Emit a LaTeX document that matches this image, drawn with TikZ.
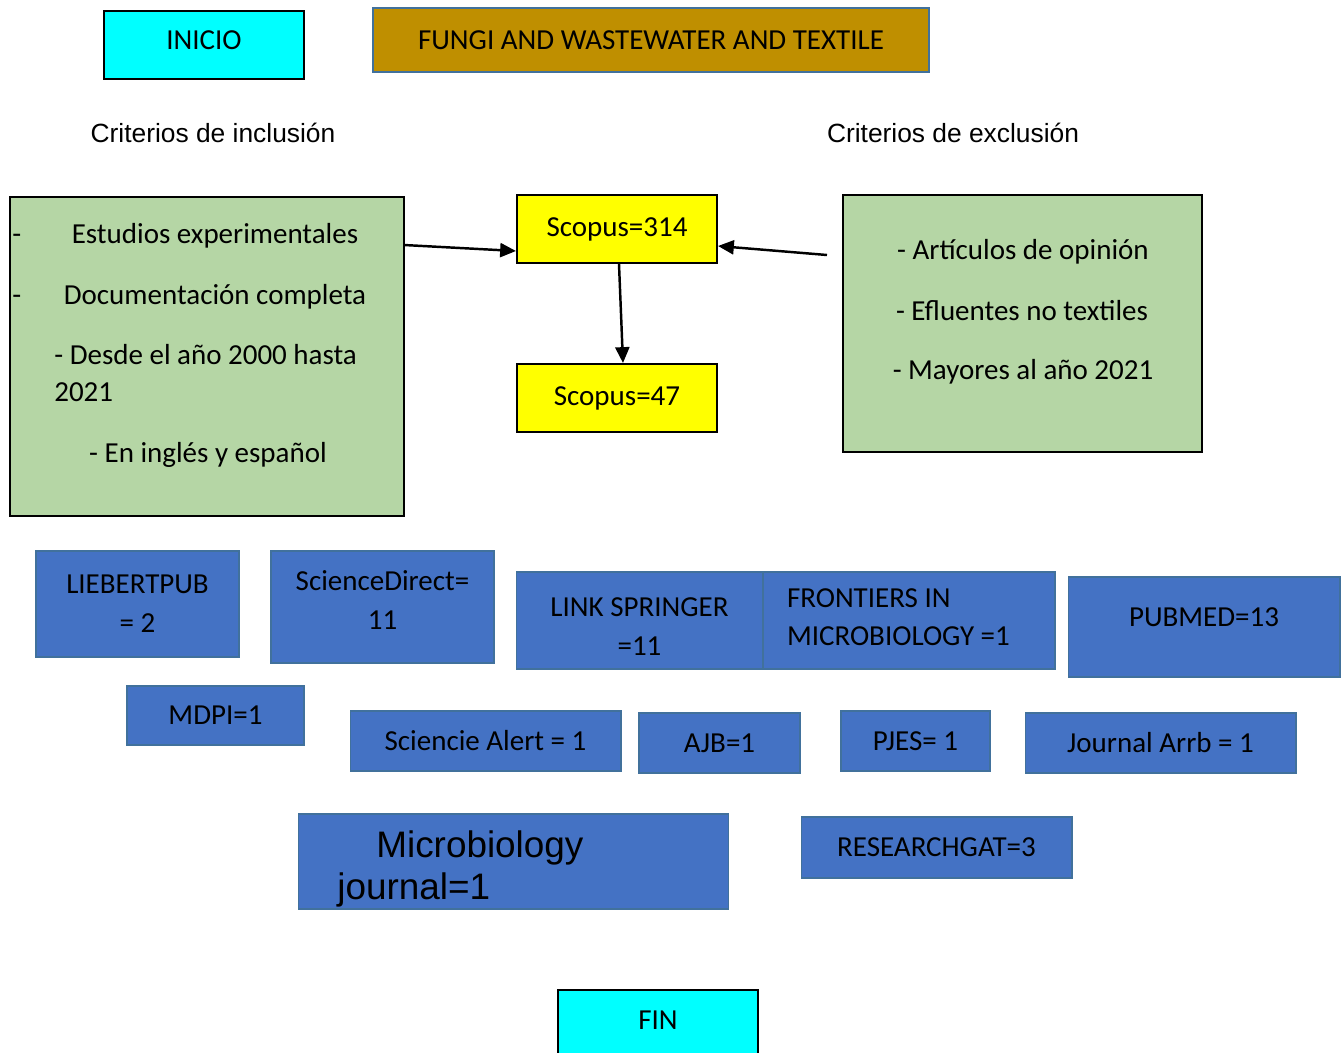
\documentclass[tikz,border=0pt]{standalone}
\usepackage{fontspec}
\setmainfont{Carlito}
\newfontfamily\arialfont{Liberation Sans}
\usetikzlibrary{arrows.meta,positioning}
\definecolor{Cyan}{HTML}{00FFFF}
\definecolor{Gold}{HTML}{BF8F00}
\definecolor{Sage}{HTML}{B5D6A5}
\definecolor{Lemon}{HTML}{FFFF00}
\definecolor{Royal}{HTML}{4472C4}
\definecolor{Steel}{HTML}{41719C}
\begin{document}
\begin{tikzpicture}
[x=0.02cm,y=-0.02cm,
font=\fontsize{16.5}{22}\selectfont,
endbox/.style={draw=black,line width=1.2pt,fill=Cyan,minimum width=4cm,minimum height=1.36cm,text depth=6pt},
topic/.style={draw=Steel,line width=0.8pt,fill=Gold},
crit/.style={draw=black,line width=1.2pt,fill=Sage},
count/.style={draw=black,line width=1.2pt,fill=Lemon,minimum width=4cm,minimum height=1.36cm},
src/.style={draw=Steel,line width=0.6pt,fill=Royal,align=center,inner sep=0pt},
head/.style={font=\arialfont\fontsize{15}{18}\selectfont},
lbl/.style={inner sep=0pt,text height=11pt,text depth=3pt},
link/.style={line width=1.4pt,-{Triangle[length=9pt,width=8pt]}}
]
\useasboundingbox (0,0) rectangle (1342,1052);
%% top
\node[endbox] (inicio) at (204,45) {INICIO};
\node[topic,minimum width=11.12cm,minimum height=1.28cm] (topic) at (651,40)
{FUNGI AND WASTEWATER AND TEXTILE};
\node[head] (inclhead) at (213,133) {Criterios de inclusión};
\node[head] (exclhead) at (953,133) {Criterios de exclusión};
%% inclusion criteria
\node[crit,minimum width=7.88cm,minimum height=6.38cm] (incl) at (207,356.5) {};
\node[lbl,anchor=west] (incdashA) at (12,236) {-};
\node[lbl] (incA) at (215,236) {Estudios experimentales};
\node[lbl,anchor=west] (incdashB) at (12,297) {-};
\node[lbl] (incB) at (215,297) {Documentación completa};
\node[lbl,anchor=west] (incC) at (54,357) {- Desde el año 2000 hasta};
\node[lbl,anchor=west] (incCC) at (54,394) {2021};
\node[lbl] (incD) at (208,455) {- En inglés y español};
%% exclusion criteria
\node[crit,minimum width=7.18cm,minimum height=5.14cm] (excl) at (1022.5,323.5) {};
\node[lbl] (excA) at (1023,252) {- Artículos de opinión};
\node[lbl] (excB) at (1022,313) {- Efluentes no textiles};
\node[lbl] (excC) at (1023,372) {- Mayores al año 2021};
%% scopus
\node[count] (scopusA) at (617,229) {Scopus=314};
\node[count] (scopusB) at (617,398) {Scopus=47};
\coordinate (inclout) at (404,245);
\coordinate (exclout) at (827,255);
\draw[link] (inclout) -- ([yshift=-0.44cm]scopusA.west);
\draw[link] (exclout) -- ([yshift=-0.34cm]scopusA.east);
\draw[link] ([xshift=0.04cm]scopusA.south) -- ([xshift=0.12cm]scopusB.north);
%% sources
\node[src,minimum width=4.06cm,minimum height=2.12cm] (lieb) at (137.5,604) {LIEBERTPUB\\= 2};
\node[src,minimum width=4.46cm,minimum height=2.24cm,text depth=8pt] (sd) at (382.5,607) {ScienceDirect=\\11};
\node[src,minimum width=4.94cm,minimum height=1.94cm,text height=40pt] (springer) at (639.5,620.5)
{LINK SPRINGER\\=11};
\node[src,minimum width=5.84cm,minimum height=1.94cm,align=flush left,inner xsep=0.48cm,
text width=4.88cm,text depth=26pt] (frontiers) at (909,620.5) {FRONTIERS IN\\MICROBIOLOGY =1};
\node[src,minimum width=5.44cm,minimum height=2cm,text depth=11pt] (pubmed) at (1204,627) {PUBMED=13};
%%
\node[src,minimum width=3.54cm,minimum height=1.18cm] (mdpi) at (215.5,715.5) {MDPI=1};
\node[src,minimum width=5.42cm,minimum height=1.2cm] (alert) at (485.5,741) {Sciencie Alert = 1};
\node[src,minimum width=3.22cm,minimum height=1.2cm] (ajb) at (719.5,743) {AJB=1};
\node[src,minimum width=2.98cm,minimum height=1.2cm] (pjes) at (915.5,741) {PJES= 1};
\node[src,minimum width=5.42cm,minimum height=1.2cm] (arrb) at (1160.5,743) {Journal Arrb = 1};
%%
\node[src,minimum width=8.62cm,minimum height=1.9cm] (micro) at (513.5,861.5) {};
\node[anchor=west,inner sep=0pt,align=flush left,font=\arialfont\fontsize{21}{24}\selectfont]
(microtxt) at (337,869) {\hspace*{0.78cm}Microbiology\\journal=1};
\node[src,minimum width=5.42cm,minimum height=1.22cm] (rg) at (936.5,847.5) {RESEARCHGAT=3};
%% end
\node[endbox,minimum height=1.4cm] (fin) at (658,1025) {FIN};
\end{tikzpicture}
\end{document}
